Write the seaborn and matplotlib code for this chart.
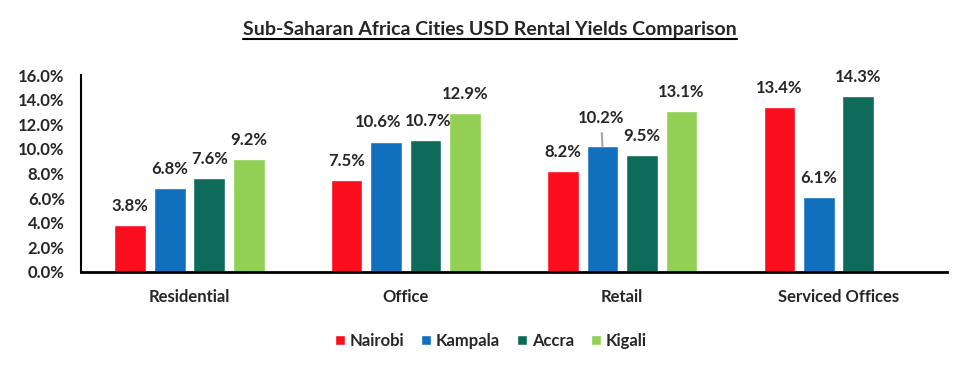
import matplotlib
matplotlib.use('Agg')
import matplotlib.pyplot as plt
from matplotlib.lines import Line2D
import seaborn as sns
import numpy as np
import pandas as pd

categories = ['Residential', 'Office', 'Retail', 'Serviced Offices']
cities = ['Nairobi', 'Kampala', 'Accra', 'Kigali']
nairobi = [3.8, 7.5, 8.2, 13.4]
kampala = [6.8, 10.6, 10.2, 6.1]
accra = [7.6, 10.7, 9.5, 14.3]
kigali = [9.2, 12.9, 13.1, np.nan]
colors = ['#FA0E1E', '#1170BD', '#0E6B5A', '#92CF55']
y_ticks = [0, 2, 4, 6, 8, 10, 12, 14, 16]
title = 'Sub-Saharan Africa Cities USD Rental Yields Comparison'

rows = []
for city, vals in zip(cities, [nairobi, kampala, accra, kigali]):
    for cat, v in zip(categories, vals):
        rows.append({'Sector': cat, 'City': city, 'Yield': v})
df = pd.DataFrame(rows).dropna()

sns.set_theme(style='white')
plt.rcParams['font.family'] = ['Lato', 'DejaVu Sans']
plt.rcParams['font.weight'] = 'bold'
fs = 12

fig, ax = plt.subplots(figsize=(9.68, 3.70), dpi=100)
fig.subplots_adjust(left=0.084, right=0.978, bottom=0.265, top=0.797)

sns.barplot(data=df, x='Sector', y='Yield', hue='City', order=categories,
            hue_order=cities, palette=colors, width=0.73, gap=0.2,
            errorbar=None, saturation=1, ax=ax)

# label nudges so neighbouring labels don't collide
nudge = {('Kampala', 1): -6, ('Accra', 1): 2}

for cont, city in zip(ax.containers, cities):
    for bar in cont:
        h = bar.get_height()
        xc = bar.get_x() + bar.get_width() / 2
        ci = round(xc)
        if city == 'Kampala' and ci == 2:
            ax.annotate(f'{h:.1f}%', xy=(xc, h), xytext=(-1, 15),
                        textcoords='offset points', ha='center', va='bottom',
                        fontsize=fs, fontweight='bold',
                        arrowprops=dict(arrowstyle='-', color='#A6A6A6', lw=1.5,
                                        shrinkA=3, shrinkB=0))
        else:
            ax.annotate(f'{h:.1f}%', xy=(xc, h), xytext=(nudge.get((city, ci), 0), 8),
                        textcoords='offset points', ha='center', va='bottom',
                        fontsize=fs, fontweight='bold')

ax.set_ylim(0, 16)
ax.set_xlim(-0.5, 3.5)
ax.set_yticks(y_ticks)
ax.set_yticklabels([f'{v:.1f}%' for v in y_ticks])
ax.set_xlabel('')
ax.set_ylabel('')
ax.tick_params(axis='y', length=0, pad=12, labelsize=fs)
ax.tick_params(axis='x', length=0, pad=12, labelsize=fs)
for lbl in ax.get_xticklabels() + ax.get_yticklabels():
    lbl.set_fontweight('bold')

sns.despine(ax=ax)
ax.spines['left'].set_color('black')
ax.spines['left'].set_linewidth(1.5)
ax.spines['bottom'].set_color('black')
ax.spines['bottom'].set_linewidth(2)

sns.move_legend(ax, 'center', bbox_to_anchor=(0.473, -0.35), ncol=4,
                frameon=False, title=None, handlelength=0.6, handleheight=0.6,
                handletextpad=0.3, columnspacing=1.0, fontsize=fs)
for t in ax.get_legend().get_texts():
    t.set_fontweight('bold')

t = fig.text(0.506, 0.92, title, ha='center', va='center', fontsize=14,
             fontweight='bold')
fig.canvas.draw()
bb = t.get_window_extent()
W, H = fig.bbox.width, fig.bbox.height
fig.add_artist(Line2D([bb.x0 / W, bb.x1 / W], [(bb.y0 - 1) / H] * 2,
                      transform=fig.transFigure, color='black', lw=1.5))

fig.savefig('out.png', dpi=100)
